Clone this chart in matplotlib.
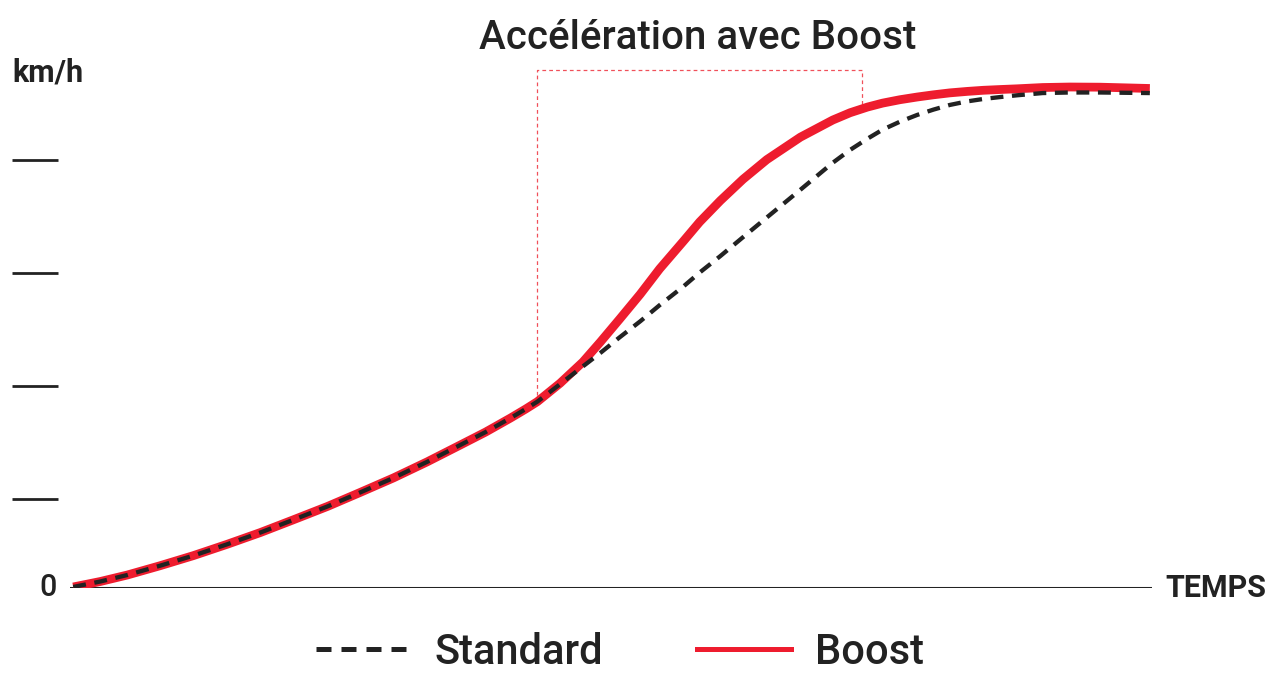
#!/usr/bin/env python3
"""Courbe d'accélération : standard vs boost."""

import numpy as np
import matplotlib
matplotlib.use("Agg")
import matplotlib.pyplot as plt
from matplotlib.lines import Line2D

plt.rcParams["font.family"] = ["Roboto", "DejaVu Sans"]

RED = "#EE1C2E"
DARK = "#222222"

# temps (unités arbitraires), commun aux deux courbes
time = [0.3, 2.8, 5.3, 8.3, 11.4, 14.5, 17.6, 20.6, 23.8, 26.8, 29.9, 33.0,
        36.0, 38.4, 40.7, 42.1, 43.2, 45.3, 47.4, 49.0, 50.8, 52.7, 54.5,
        56.7, 58.2, 60.1, 62.2, 64.4, 67.5, 70.5, 72.1, 73.7, 75.1, 76.7,
        78.3, 79.8, 81.3, 82.9, 84.4, 86.0, 87.5, 89.9, 92.4, 95.2, 99.8]

# vitesse (unités arbitraires)
common_v = [0.18, 1.15, 2.30, 3.93, 5.73, 7.72, 9.82, 12.04, 14.44, 16.90,
            19.49, 22.32, 25.24, 27.59, 30.07, 31.66, 32.99]
std_v = common_v + [36.09, 39.22, 41.58, 44.37, 47.20, 50.07, 53.38, 55.84,
                    58.74, 62.09, 65.58, 70.48, 75.27, 77.54, 79.52, 81.12,
                    82.53, 83.73, 84.67, 85.49, 86.12, 86.55, 86.90, 87.20,
                    87.60, 87.70, 87.70, 87.60]
boost_v = common_v + [36.25, 40.00, 43.50, 47.60, 52.00, 56.50, 61.40, 64.80,
                      68.55, 72.34, 75.82, 79.79, 82.83, 84.12, 85.12, 85.82,
                      86.42, 86.90, 87.29, 87.63, 87.89, 88.09, 88.23, 88.35,
                      88.58, 88.67, 88.64, 88.41]

y_ticks = [15.75, 35.75, 55.75, 75.75]
boost_start, boost_end, bracket_top = 43.2, 73.2, 91.7

fig = plt.figure(figsize=(12.8, 6.85), dpi=100)
ax = fig.add_axes([70 / 1280, 97 / 685, 1082 / 1280, 565 / 685])
ax.set_xlim(0, 100)
ax.set_ylim(0, 100)
ax.axis("off")

# axe horizontal
ax.axhline(0, color=DARK, lw=2.2, zorder=1)

# petits traits de graduation à gauche
ax.hlines(y_ticks, -0.0536, -0.0111, color=DARK, lw=2.0,
          transform=ax.get_yaxis_transform(), clip_on=False)

# zone boost (crochet pointillé)
y0 = np.interp(boost_start, time, boost_v)
y1 = np.interp(boost_end, time, boost_v)
ax.plot([boost_start, boost_start, boost_end, boost_end],
        [y0, bracket_top, bracket_top, y1],
        color="#F0505A", lw=0.9, ls=(0, (3, 2.5)), zorder=1, clip_on=False)

ax.plot(time, boost_v, color=RED, lw=6.3, solid_capstyle="butt",
        solid_joinstyle="round", zorder=2)
ax.plot(time, std_v, color=DARK, lw=3.1, ls=(0, (3.0, 2.0)), zorder=3)

tr = ax.get_yaxis_transform()
ax.text(-0.0536, 91.3, "km/h", transform=tr, ha="left", va="center",
        fontsize=22, fontweight="bold", color=DARK)
ax.text(-0.0203, 0, "0", transform=tr, ha="center", va="center",
        fontsize=22, fontweight="medium", color=DARK)
ax.text(1.012, 0, "TEMPS", transform=tr, ha="left", va="center",
        fontsize=22, fontweight="bold", color=DARK)

fig.text(698 / 1280, 1 - 38 / 685, "Accélération avec Boost", ha="center",
         va="center", fontsize=29, fontweight="medium", color=DARK)

handles = [Line2D([], [], color=DARK, lw=3.6, ls=(0, (3, 2))),
           Line2D([], [], color=RED, lw=3.6)]
fig.legend(handles, ["Standard", "Boost"], loc="center",
           bbox_to_anchor=(620 / 1280, 1 - 652 / 685), ncol=2, frameon=False,
           prop={"size": 30, "weight": "medium"}, handlelength=2.25,
           handletextpad=0.6, columnspacing=2.25, labelcolor=DARK)

fig.savefig("out.png", dpi=100)
